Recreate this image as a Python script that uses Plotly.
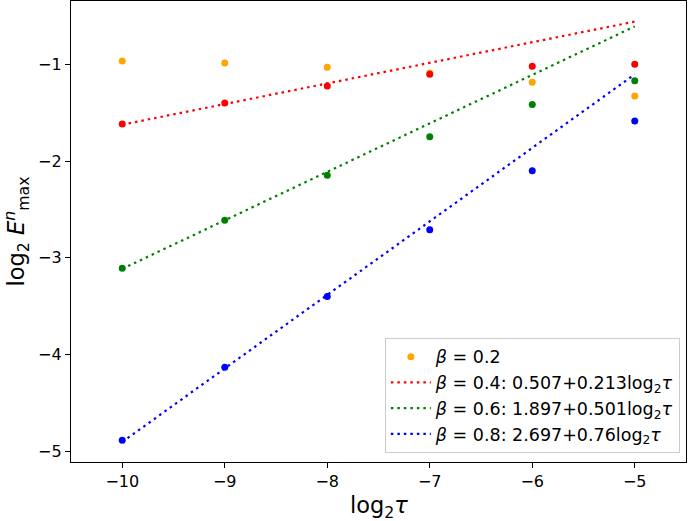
import plotly.graph_objects as go

x_vals = [-10, -9, -8, -7, -6, -5]
betas = [0.2, 0.4, 0.6, 0.8]
colors = ["orange", "red", "green", "blue"]
err_b02 = [-0.966, -0.987, -1.03, -1.09, -1.186, -1.328]
err_b04 = [-1.617, -1.40, -1.224, -1.103, -1.02, -1.00]
err_b06 = [-3.107, -2.61, -2.145, -1.749, -1.414, -1.17]
err_b08 = [-4.885, -4.13, -3.40, -2.71, -2.10, -1.586]
errors = [err_b02, err_b04, err_b06, err_b08]
intercepts = [None, 0.507, 1.897, 2.697]
slopes = [None, 0.213, 0.501, 0.76]
fit_labels = [None, "0.507+0.213log<sub>2</sub><i>τ</i>", "1.897+0.501log<sub>2</sub><i>τ</i>",
              "2.697+0.76log<sub>2</sub><i>τ</i>"]
x_ticktext = ["−10", "−9", "−8", "−7", "−6", "−5"]
y_tickvals = [-5, -4, -3, -2, -1]
y_ticktext = ["−5", "−4", "−3", "−2", "−1"]

fig = go.Figure()
for i, b in enumerate(betas):
    fig.add_trace(go.Scatter(
        x=x_vals, y=errors[i], mode="markers",
        marker=dict(color=colors[i], size=7),
        name=f"<i>β</i> = {b}",
        showlegend=(intercepts[i] is None),
    ))
    if intercepts[i] is not None:
        xl = [x_vals[0], x_vals[-1]]
        yl = [intercepts[i] + slopes[i] * v for v in xl]
        fig.add_trace(go.Scatter(
            x=xl, y=yl, mode="lines",
            line=dict(color=colors[i], width=2.2, dash="2.5px,4px"),
            name=f"<i>β</i> = {b}: {fit_labels[i]}",
        ))

axis_common = dict(
    showline=True, linecolor="black", linewidth=1.2, mirror=True,
    ticks="outside", ticklen=5, tickwidth=1.2, tickcolor="black",
    showgrid=False, zeroline=False, automargin=False,
    tickfont=dict(family="DejaVu Sans", size=16, color="black"),
)
fig.update_xaxes(range=[-10.5, -4.5], tickvals=x_vals, ticktext=x_ticktext, **axis_common)
fig.update_yaxes(range=[-5.11, -0.345], tickvals=y_tickvals, ticktext=y_ticktext, **axis_common)

title_font = dict(family="DejaVu Sans", size=22.5, color="black")
fig.add_annotation(text="log<sub>2</sub><i>τ</i>", xref="paper", yref="paper",
                   x=0.5, y=0, xanchor="center", yanchor="middle", yshift=-45,
                   showarrow=False, font=title_font)
fig.add_annotation(text="log<sub>2</sub> <i>E</i><sup><i>n</i></sup><sub>max</sub>", xref="paper", yref="paper",
                   x=0, y=0.5, xanchor="center", yanchor="middle", xshift=-55, textangle=-90,
                   showarrow=False, font=title_font)

fig.update_layout(
    width=689, height=521,
    margin=dict(l=71, r=3, t=1, b=59),
    plot_bgcolor="white", paper_bgcolor="white",
    font=dict(family="DejaVu Sans", color="black"),
    legend=dict(x=0.99, y=0.02, xanchor="right", yanchor="bottom",
                bgcolor="rgba(255,255,255,0.8)", bordercolor="#cccccc", borderwidth=1,
                font=dict(family="DejaVu Sans", size=17.5, color="black"),
                itemwidth=40, tracegroupgap=0),
)
fig.write_html("out.html", post_script="document.body.style.margin='0';",
               config={"displayModeBar": False})
